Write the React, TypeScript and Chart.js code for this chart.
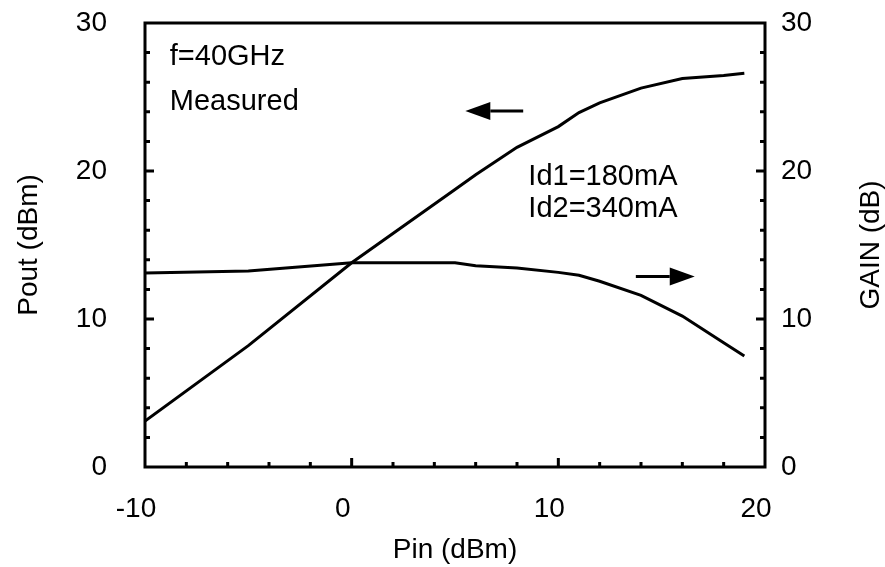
import React, { useEffect, useRef } from "react";
import { Chart, registerables } from "chart.js";

Chart.register(...registerables);

// ---- data ----
const pinDbm = [-10, -5, 0, 5, 6, 8, 10, 11, 12, 14, 16, 18, 19];
const poutDbm = [3.1, 8.2, 13.8, 18.75, 19.75, 21.6, 23.0, 23.95, 24.6, 25.6, 26.25, 26.45, 26.6];
const gainDb = [13.1, 13.25, 13.8, 13.8, 13.6, 13.45, 13.15, 12.95, 12.55, 11.6, 10.2, 8.4, 7.5];

const xTickValues = [-10, 0, 10, 20];
const yTickValues = [0, 10, 20, 30];

// annotation texts (positions in data units: Pin, Pout)
const notes = [
  { text: "f=40GHz", x: -8.8, y: 27.7 },
  { text: "Measured", x: -8.8, y: 24.65 },
  { text: "Id1=180mA", x: 8.55, y: 19.6 },
  { text: "Id2=340mA", x: 8.55, y: 17.45 },
];
// arrows (data units): left arrow points at Pout axis, right arrow at GAIN axis
const poutArrow = { tipX: 5.5, tailX: 8.3, y: 24.05 };
const gainArrow = { tipX: 16.6, tailX: 13.75, y: 12.88 };

const FONT = "'Liberation Sans', Arial, Helvetica, sans-serif";
const FS = 28;
const NOTE_FS = 29;

const framePlugin = {
  id: "frame",
  afterDraw(chart: any) {
    const { ctx, chartArea, scales } = chart;
    const { left, right, top, bottom } = chartArea;
    const xs = scales.x;
    const ys = scales.y;
    const y2 = scales.y2;
    ctx.save();
    ctx.strokeStyle = "#000";
    ctx.fillStyle = "#000";
    ctx.lineWidth = 3;
    ctx.lineJoin = "miter";
    ctx.strokeRect(left, top, right - left, bottom - top);

    const MINOR = 5;
    const MAJOR = 9;
    ctx.beginPath();
    for (let v = -8; v < 20; v += 2) {
      const px = xs.getPixelForValue(v);
      const len = v % 10 === 0 ? MAJOR : MINOR;
      ctx.moveTo(px, bottom);
      ctx.lineTo(px, bottom - len);
    }
    for (let v = 2; v < 30; v += 2) {
      const len = v % 10 === 0 ? MAJOR : MINOR;
      const py = ys.getPixelForValue(v);
      ctx.moveTo(left, py);
      ctx.lineTo(left + len, py);
      const py2 = y2.getPixelForValue(v);
      ctx.moveTo(right, py2);
      ctx.lineTo(right - len, py2);
    }
    ctx.stroke();

    // arrows
    const drawArrow = (tipPx: number, tailPx: number, py: number) => {
      const dir = Math.sign(tailPx - tipPx);
      const headLen = 25;
      const headHalf = 9;
      ctx.beginPath();
      ctx.moveTo(tailPx, py);
      ctx.lineTo(tipPx + dir * headLen, py);
      ctx.lineWidth = 3;
      ctx.stroke();
      ctx.beginPath();
      ctx.moveTo(tipPx, py);
      ctx.lineTo(tipPx + dir * headLen, py - headHalf);
      ctx.lineTo(tipPx + dir * headLen, py + headHalf);
      ctx.closePath();
      ctx.fill();
    };
    drawArrow(xs.getPixelForValue(poutArrow.tipX), xs.getPixelForValue(poutArrow.tailX), ys.getPixelForValue(poutArrow.y));
    drawArrow(xs.getPixelForValue(gainArrow.tipX), xs.getPixelForValue(gainArrow.tailX), y2.getPixelForValue(gainArrow.y));

    // notes
    ctx.font = `${NOTE_FS}px ${FONT}`;
    ctx.textAlign = "left";
    ctx.textBaseline = "middle";
    for (const n of notes) {
      ctx.fillText(n.text, xs.getPixelForValue(n.x), ys.getPixelForValue(n.y));
    }

    // right axis title (reads bottom-to-top)
    ctx.font = `${FS}px ${FONT}`;
    ctx.save();
    ctx.translate(871, (top + bottom) / 2);
    ctx.rotate(-Math.PI / 2);
    ctx.textAlign = "center";
    ctx.textBaseline = "middle";
    ctx.fillText("GAIN (dB)", 0, 0);
    ctx.restore();

    ctx.restore();
  },
};

export default function App() {
  const ref = useRef<HTMLCanvasElement | null>(null);
  useEffect(() => {
    document.body.style.margin = "0";
    const canvas = ref.current!;
    const font = { family: FONT, size: FS };
    const chart = new Chart(canvas, {
      type: "line",
      data: {
        datasets: [
          {
            label: "Pout",
            data: pinDbm.map((x, i) => ({ x, y: poutDbm[i] })),
            borderColor: "#000",
            borderWidth: 3,
            pointRadius: 0,
            tension: 0,
            yAxisID: "y",
          },
          {
            label: "Gain",
            data: pinDbm.map((x, i) => ({ x, y: gainDb[i] })),
            borderColor: "#000",
            borderWidth: 3,
            pointRadius: 0,
            tension: 0,
            yAxisID: "y2",
          },
        ],
      },
      options: {
        animation: false,
        responsive: false,
        devicePixelRatio: 1,
        layout: { padding: { top: 23, left: 0, right: 0, bottom: 0 } },
        plugins: { legend: { display: false }, tooltip: { enabled: false } },
        scales: {
          x: {
            type: "linear",
            min: -10,
            max: 20,
            afterBuildTicks: (s: any) => {
              s.ticks = xTickValues.map((value) => ({ value }));
            },
            afterFit: (s: any) => {
              s.height = 100;
              s.paddingLeft = 0;
              s.paddingRight = 0;
            },
            grid: { display: false },
            border: { display: false },
            ticks: { color: "#000", font, padding: 17, labelOffset: -9, maxRotation: 0 },
            title: {
              display: true,
              text: "Pin (dBm)",
              color: "#000",
              font,
              padding: { top: 0, bottom: 0 },
            },
          },
          y: {
            type: "linear",
            position: "left",
            min: 0,
            max: 30,
            afterBuildTicks: (s: any) => {
              s.ticks = yTickValues.map((value) => ({ value }));
            },
            afterFit: (s: any) => {
              s.width = 145;
              s.paddingTop = 0;
              s.paddingBottom = 0;
            },
            grid: { display: false },
            border: { display: false },
            ticks: { color: "#000", font, padding: 30 },
            title: {
              display: true,
              text: "Pout (dBm)",
              color: "#000",
              font,
              padding: { top: 12, bottom: 0 },
            },
          },
          y2: {
            type: "linear",
            position: "right",
            min: 0,
            max: 30,
            afterBuildTicks: (s: any) => {
              s.ticks = yTickValues.map((value) => ({ value }));
            },
            afterFit: (s: any) => {
              s.width = 120;
              s.paddingTop = 0;
              s.paddingBottom = 0;
            },
            grid: { display: false },
            border: { display: false },
            ticks: { color: "#000", font, padding: 8 },
          },
        },
      },
      plugins: [framePlugin],
    });
    return () => chart.destroy();
  }, []);
  return (
    <div style={{ width: 885, height: 567, background: "#fff" }}>
      <canvas ref={ref} width={885} height={567} />
    </div>
  );
}
